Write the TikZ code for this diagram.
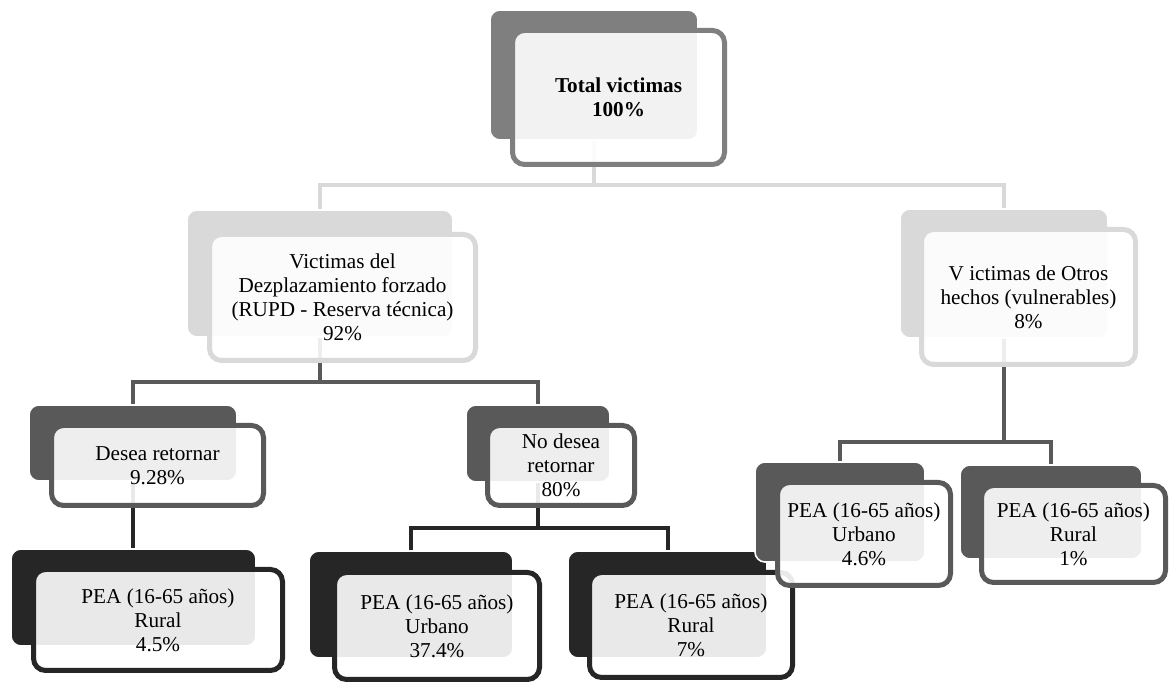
\documentclass[tikz,border=0pt]{standalone}
\usepackage{fontspec}
\setmainfont{Liberation Serif}
\definecolor{cA}{HTML}{7F7F7F}
\definecolor{cB}{HTML}{D9D9D9}
\definecolor{cC}{HTML}{595959}
\definecolor{cD}{HTML}{262626}
\begin{document}
\begin{tikzpicture}[x=0.5pt,y=-0.5pt,
  back/.style={draw=white, line width=0.8pt, rounded corners=5pt, fill=#1, inner sep=0pt},
  front/.style={draw=#1, line width=2.5pt, rounded corners=6pt, fill=white, fill opacity=0.9,
    text opacity=1, align=center, inner sep=0pt, font=\fontsize{10.6}{12}\selectfont},
  conn/.style={draw=#1, line width=2pt}]
\fill[white] (0,0) rectangle (1169,683);
\useasboundingbox (0,0) rectangle (1169,683);

% back boxes (named, used for connectors) - defined first as coordinates
\path (594,75) coordinate (tbc) (320,273.5) coordinate (vbc) (1004,273.5) coordinate (obc);

% ---------- connectors (drawn beneath) ----------
\coordinate (bus1) at (594,185);
\coordinate (bus2) at (320,382);
\coordinate (bus3) at (538,528);
\coordinate (bus4) at (1004,442);

% invisible placeholders so connectors can use node names
\node[minimum width=104pt, minimum height=65pt, inner sep=0pt] (tb) at (594,75) {};
\node[minimum width=133pt, minimum height=63.5pt, inner sep=0pt] (vb) at (320,273.5) {};
\node[minimum width=104pt, minimum height=64.5pt, inner sep=0pt] (ob) at (1004,273.5) {};
\node[minimum width=104pt, minimum height=38pt, inner sep=0pt] (db) at (133,443) {};
\node[minimum width=72pt, minimum height=38.5pt, inner sep=0pt] (nb) at (538,443.5) {};
\node[minimum width=85pt, minimum height=50pt, inner sep=0pt] (u2b) at (840,512) {};
\node[minimum width=91pt, minimum height=47pt, inner sep=0pt] (r2b) at (1051,512) {};
\node[minimum width=122.5pt, minimum height=48.5pt, inner sep=0pt] (r1b) at (133.5,597.5) {};
\node[minimum width=102pt, minimum height=53.5pt, inner sep=0pt] (u1b) at (411,604.5) {};
\node[minimum width=99.5pt, minimum height=53.5pt, inner sep=0pt] (r3b) at (667.5,604.5) {};

\draw[conn=cB] (tb.south) -- (bus1) -| (vb.north);
\draw[conn=cB] (bus1) -| (ob.north);
\draw[conn=cC] (vb.south) -- (bus2) -| (db.north);
\draw[conn=cC] (bus2) -| (nb.north);
\draw[conn=cD] (db.south) -- (db.south |- r1b.north);
\draw[conn=cD] (nb.south) -- (bus3) -| (u1b.north);
\draw[conn=cD] (bus3) -| (r3b.north);
\draw[conn=cC] (ob.south) -- (bus4) -| (u2b.north);
\draw[conn=cC] (bus4) -| (r2b.north);

% ---------- boxes ----------
% Level 1
\node[back=cA, minimum width=104pt, minimum height=65pt] (tbk) at (tb) {};
\node[front=cA, minimum width=106pt, minimum height=67pt] (tf) at (618.5,97.5)
  {\textbf{Total victimas}\\\textbf{100\%}};
% Level 2 left
\node[back=cB, minimum width=133pt, minimum height=63.5pt] (vbk) at (vb) {};
\node[front=cB, minimum width=133pt, minimum height=63pt] (vf) at (342.5,297.5)
  {Victimas del\\Dezplazamiento forzado\\(RUPD - Reserva técnica)\\92\%};
% Level 3 left
\node[back=cC, minimum width=104pt, minimum height=38pt] (dbk) at (db) {};
\node[front=cC, minimum width=106pt, minimum height=40pt] (df) at (157.5,465.5)
  {Desea retornar\\9.28\%};
\node[back=cD, minimum width=122.5pt, minimum height=48.5pt] (r1bk) at (r1b) {};
\node[front=cD, minimum width=124.5pt, minimum height=50.5pt] (r1f) at (158,620)
  {PEA (16-65 años)\\Rural\\4.5\%};
\node[back=cC, minimum width=72pt, minimum height=38.5pt] (nbk) at (nb) {};
\node[front=cC, minimum width=73.5pt, minimum height=40pt] (nf) at (561,465.5)
  {No desea\\retornar\\80\%};
\node[back=cD, minimum width=102pt, minimum height=53.5pt] (u1bk) at (u1b) {};
\node[front=cD, minimum width=102.5pt, minimum height=53.5pt] (u1f) at (437,626)
  {PEA (16-65 años)\\Urbano\\37.4\%};
\node[back=cD, minimum width=99.5pt, minimum height=53.5pt] (r3bk) at (r3b) {};
\node[front=cD, minimum width=101.5pt, minimum height=52.5pt] (r3f) at (691,625)
  {PEA (16-65 años)\\Rural\\7\%};
% Level 2 right
\node[back=cB, minimum width=104pt, minimum height=64.5pt] (obk) at (ob) {};
\node[front=cB, minimum width=107pt, minimum height=67.5pt] (of) at (1028.5,297)
  {V ictimas de Otros\\hechos (vulnerables)\\8\%};
% Level 3 right
\node[back=cC, minimum width=85pt, minimum height=50pt] (u2bk) at (u2b) {};
\node[front=cC, minimum width=86.5pt, minimum height=51.5pt] (u2f) at (864,534)
  {PEA (16-65 años)\\Urbano\\4.6\%};
\node[back=cC, minimum width=91pt, minimum height=47pt] (r2bk) at (r2b) {};
\node[front=cC, minimum width=92pt, minimum height=48.5pt] (r2f) at (1073.5,534)
  {PEA (16-65 años)\\Rural\\1\%};
\end{tikzpicture}
\end{document}
